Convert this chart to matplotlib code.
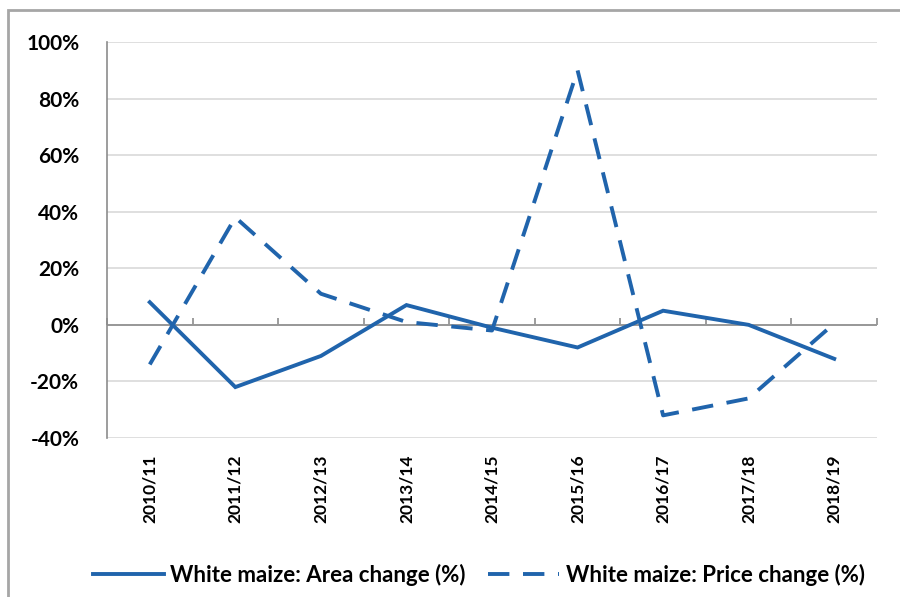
import matplotlib.pyplot as plt
from matplotlib.patches import Rectangle
from matplotlib.ticker import FuncFormatter

plt.rcParams['font.family'] = ['Lato', 'DejaVu Sans']
plt.rcParams['font.weight'] = 'bold'

seasons = ["2010/11", "2011/12", "2012/13", "2013/14", "2014/15",
           "2015/16", "2016/17", "2017/18", "2018/19"]
area_change = [8, -22, -11, 7, -1, -8, 5, 0, -12]
price_change = [-14, 38, 11, 1, -2, 90, -32, -26, 0.5]

blue = "#2064ac"
x = list(range(len(seasons)))

fig = plt.figure(figsize=(9, 5.97), dpi=100)
# chart frame (left/top edges only show)
fig.patches.append(Rectangle((8 / 900, -0.1), 1.2, 1 - 10 / 597 + 0.1,
                             transform=fig.transFigure, fill=False,
                             edgecolor="#a6a6a6", linewidth=2))

ax = fig.add_axes([107 / 900, 1 - 438 / 597, 770 / 900, 396 / 597])

ax.plot(x, area_change, color=blue, linewidth=2.8, solid_joinstyle="miter",
        label="White maize: Area change (%)")
ax.plot(x, price_change, color=blue, linewidth=2.8, linestyle=(0, (5.5, 3.5)),
        label="White maize: Price change (%)")

ax.set_xlim(-0.5, len(seasons) - 0.5)
ax.set_ylim(-40, 100)
ax.set_yticks(range(-40, 101, 20))
ax.yaxis.set_major_formatter(FuncFormatter(lambda v, p: "%d%%" % v))
ax.grid(axis="y", color="#d9d9d9", linewidth=1.2)
ax.set_axisbelow(True)
ax.axhline(0, color="#8c8c8c", linewidth=1.2, zorder=1)

for s in ["top", "right", "bottom"]:
    ax.spines[s].set_visible(False)
ax.spines["left"].set_color("#8c8c8c")
ax.spines["left"].set_linewidth(1.2)

ax.set_xticks(x)
ax.set_xticklabels(seasons, rotation=90, fontsize=12.5, fontweight="bold")
ax.tick_params(axis="x", length=0, pad=12)
ax.tick_params(axis="y", length=0, pad=20, labelsize=15)

# category boundary ticks on the zero line
zero_axis = ax.secondary_xaxis(40 / 140)
zero_axis.set_xticks([i + 0.5 for i in range(-1, len(seasons))])
zero_axis.set_xticklabels([])
zero_axis.tick_params(direction="in", length=5, color="#8c8c8c", width=1.2)
zero_axis.spines["bottom"].set_visible(False)
zero_axis.spines["top"].set_visible(False)

fig.legend(loc="center", bbox_to_anchor=(0.532, 1 - 575 / 597), ncol=2,
           frameon=False, handlelength=3.2, handletextpad=0.3,
           columnspacing=1.0, prop={"weight": "bold", "size": 16})

fig.savefig("out.png", dpi=100)
